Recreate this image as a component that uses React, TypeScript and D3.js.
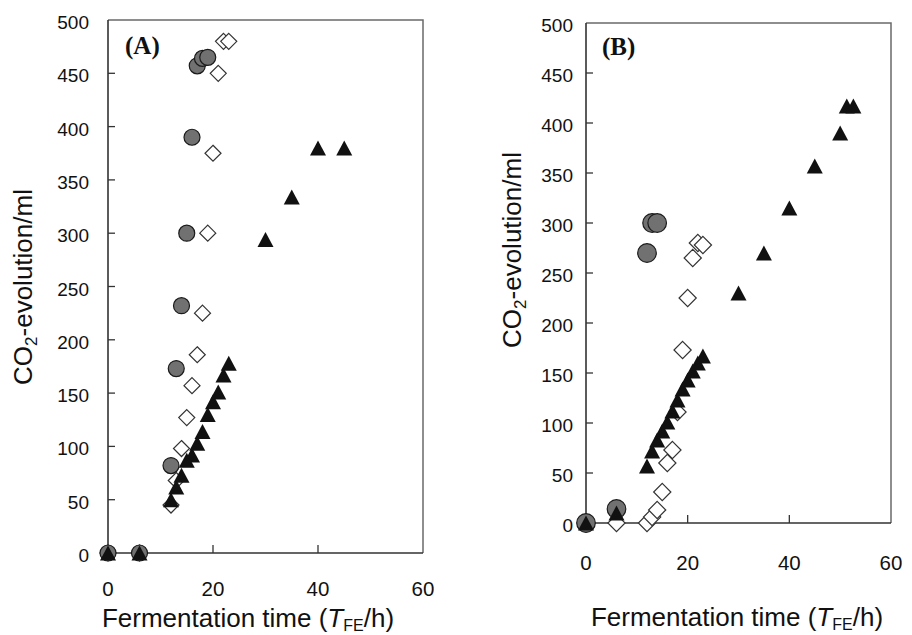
import React from "react";
import * as d3 from "d3";

// ---------- shared ticks ----------
const xTickValues = [0, 20, 40, 60];
const yTickValues = [0, 50, 100, 150, 200, 250, 300, 350, 400, 450, 500];

// ---------- Panel A ----------
const aCircleTime = [0, 6, 12, 13, 14, 15, 16, 17, 18, 19];
const aCircleCO2 = [0, 0, 82, 173, 232, 300, 390, 457, 464, 465];
const aDiamondTime = [0, 6, 12, 13, 14, 15, 16, 17, 18, 19, 20, 21, 22, 23];
const aDiamondCO2 = [0, 0, 45, 68, 98, 127, 157, 186, 225, 300, 375, 450, 480, 480];
const aTriangleTime = [0, 6, 12, 13, 14, 15, 16, 17, 18, 19, 20, 21, 22, 23, 30, 35, 40, 45];
const aTriangleCO2 = [0, 0, 50, 62, 73, 87, 92, 103, 114, 130, 142, 151, 167, 178, 294, 334, 380, 380];

// ---------- Panel B ----------
const bCircleTime = [0, 6, 12, 13, 14];
const bCircleCO2 = [0, 14, 270, 300, 300];
const bDiamondTime = [0, 6, 12, 13, 14, 15, 16, 17, 18, 19, 20, 21, 22, 23];
const bDiamondCO2 = [0, 0, 0, 6, 13, 31, 60, 73, 111, 173, 225, 265, 280, 278];
const bTriangleTime = [0, 6, 12, 13, 14, 15, 16, 17, 18, 19, 20, 21, 22, 23, 30, 35, 40, 45, 50, 51.3, 52.6];
const bTriangleCO2 = [0, 10, 57, 72, 83, 92, 101, 112, 123, 134, 143, 152, 160, 167, 230, 270, 315, 357, 390, 417, 417];

type PanelCfg = {
  label: string;
  x0: number; x1: number; y0: number; y1: number;
  circles: [number[], number[]];
  diamonds: [number[], number[]];
  triangles: [number[], number[]];
  rCircle: number; dHalf: number;
  yLabelX: number; xLabelY: number;
  xTitleX: number; xTitleY: number;
  yTitleX: number; yTitleY: number;
  panelLabelX: number; panelLabelY: number;
};

const font = "'Liberation Sans', Arial, Helvetica, sans-serif";

function Panel({ c }: { c: PanelCfg }) {
  const x = d3.scaleLinear().domain([0, 60]).range([c.x0, c.x1]);
  const y = d3.scaleLinear().domain([0, 500]).range([c.y0, c.y1]);
  const zip = (a: [number[], number[]]) => a[0].map((t, i) => [t, a[1][i]]);
  const tri = (cx: number, cy: number) =>
    `M${cx},${cy - 7.5}L${cx + 8},${cy + 7.5}L${cx - 8},${cy + 7.5}Z`;
  const dia = (cx: number, cy: number, h: number) =>
    `M${cx},${cy - h}L${cx + h},${cy}L${cx},${cy + h}L${cx - h},${cy}Z`;
  return (
    <g>
      {/* frame top/right */}
      <path d={`M${c.x0},${c.y1}H${c.x1}V${c.y0}`} fill="none" stroke="#6a6a6a" strokeWidth={1.5} />
      {/* axes */}
      <path d={`M${c.x0},${c.y1}V${c.y0}H${c.x1}`} fill="none" stroke="#333" strokeWidth={1.6} />
      {yTickValues.slice(1, -1).map((v) => (
        <line key={"yt" + v} x1={c.x0} x2={c.x0 + 7} y1={y(v)} y2={y(v)} stroke="#333" strokeWidth={1.3} />
      ))}
      {xTickValues.slice(1, -1).map((v) => (
        <line key={"xt" + v} x1={x(v)} x2={x(v)} y1={c.y0} y2={c.y0 - 8} stroke="#333" strokeWidth={1.3} />
      ))}
      {yTickValues.map((v) => (
        <text key={"yl" + v} x={c.yLabelX} y={y(v) + 9} textAnchor="end" fontSize={19} fontFamily={font} fill="#111">
          {v}
        </text>
      ))}
      {xTickValues.map((v) => (
        <text key={"xl" + v} x={x(v)} y={c.xLabelY} textAnchor="middle" fontSize={20.5} fontFamily={font} fill="#111">
          {v}
        </text>
      ))}
      {/* markers */}
      {zip(c.diamonds).map(([t, v], i) => (
        <path key={"d" + i} d={dia(x(t), y(v), c.dHalf)} fill="#fff" stroke="#333" strokeWidth={1.2} />
      ))}
      {zip(c.circles).map(([t, v], i) => (
        <circle key={"c" + i} cx={x(t)} cy={y(v)} r={c.rCircle} fill="#717171" stroke="#1a1a1a" strokeWidth={1.2} />
      ))}
      {zip(c.triangles).map(([t, v], i) => (
        <path key={"t" + i} d={tri(x(t), y(v))} fill="#111" />
      ))}
      {/* panel label */}
      <text x={c.panelLabelX} y={c.panelLabelY} fontFamily="'Liberation Serif', 'Times New Roman', serif" fontWeight="bold" fontSize={25} fill="#111">
        {c.label}
      </text>
      {/* x title */}
      <text x={c.xTitleX} y={c.xTitleY} textAnchor="middle" fontSize={26} fontFamily={font} fill="#111">
        Fermentation time (<tspan fontStyle="italic">T</tspan>
        <tspan fontSize={16} dy={4}>FE</tspan>
        <tspan dy={-4}>/h)</tspan>
      </text>
      {/* y title */}
      <text
        transform={`translate(${c.yTitleX},${c.yTitleY}) rotate(-90)`}
        textAnchor="middle"
        fontSize={26}
        fontFamily={font}
        fill="#111"
      >
        CO<tspan fontSize={17} dy={5}>2</tspan>
        <tspan dy={-5}>-evolution/ml</tspan>
      </text>
    </g>
  );
}

const panelA: PanelCfg = {
  label: "(A)",
  x0: 108, x1: 423, y0: 553, y1: 20,
  circles: [aCircleTime, aCircleCO2],
  diamonds: [aDiamondTime, aDiamondCO2],
  triangles: [aTriangleTime, aTriangleCO2],
  rCircle: 8, dHalf: 8,
  yLabelX: 89, xLabelY: 596,
  xTitleX: 248, xTitleY: 627,
  yTitleX: 32, yTitleY: 287,
  panelLabelX: 125, panelLabelY: 54,
};

const panelB: PanelCfg = {
  label: "(B)",
  x0: 586, x1: 891, y0: 523, y1: 23,
  circles: [bCircleTime, bCircleCO2],
  diamonds: [bDiamondTime, bDiamondCO2],
  triangles: [bTriangleTime, bTriangleCO2],
  rCircle: 9.3, dHalf: 8.6,
  yLabelX: 573, xLabelY: 570,
  xTitleX: 737, xTitleY: 626,
  yTitleX: 521, yTitleY: 250,
  panelLabelX: 602, panelLabelY: 55,
};

export default function App() {
  return (
    <svg
      width={912}
      height={635}
      style={{ position: "absolute", left: 0, top: 0, background: "#fff" }}
    >
      <rect width={912} height={635} fill="#fff" />
      <Panel c={panelA} />
      <Panel c={panelB} />
    </svg>
  );
}
